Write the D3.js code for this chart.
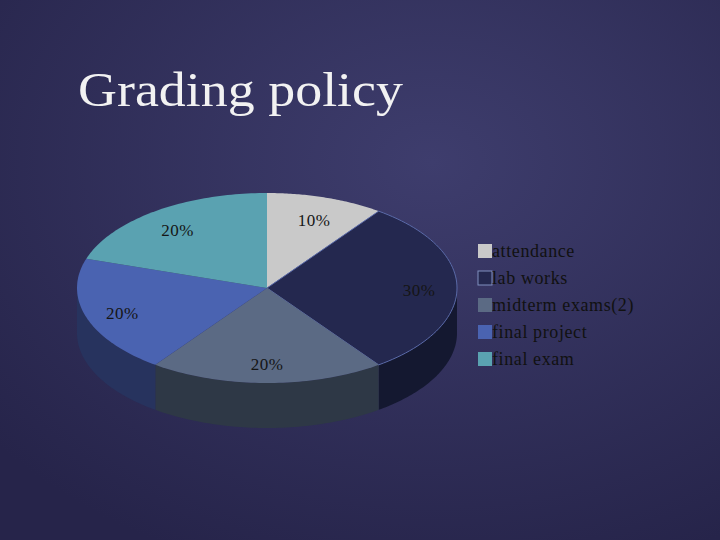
<!DOCTYPE html>
<html><head><meta charset="utf-8">
<script src="https://cdn.jsdelivr.net/npm/d3@7"></script>
<style>body{margin:0}svg{display:block}</style></head>
<body><svg id="c" width="720" height="540"></svg>
<script>
const categories = ["attendance","lab works","midterm exams(2)","final project","final exam"];
const values = [10,30,20,20,20];
const labels = ["10%","30%","20%","20%","20%"];
const topColors = ["#c9c9c9","#24284f","#5b6a84","#4a63b1","#5aa2b1"];
const sideColors = ["#8a8a8a","#141830","#2e3846","#27335e","#3a6a74"];

const svg = d3.select("#c");
const defs = svg.append("defs");
const g = defs.append("radialGradient").attr("id","bg").attr("cx","60%").attr("cy","30%").attr("r","80%");
g.append("stop").attr("offset","0%").attr("stop-color","#3e3d6d");
g.append("stop").attr("offset","100%").attr("stop-color","#26244a");
svg.append("rect").attr("width",720).attr("height",540).attr("fill","url(#bg)");

svg.append("text").attr("x",78).attr("y",106).attr("fill","#f2f2f2")
  .attr("font-family","Liberation Serif, DejaVu Serif, serif").attr("font-size",48)
  .attr("textLength",325).attr("lengthAdjust","spacingAndGlyphs")
  .text("Grading policy");

const cx=267, cy=288, rx=190, ry=95, depth=45;
const pie = d3.pie().sort(null).startAngle(0).endAngle(2*Math.PI);
const arcs = pie(values);
const sx = d3.scaleLinear().domain([-1,1]).range([cx-rx,cx+rx]);
const sy = d3.scaleLinear().domain([-1,1]).range([cy-ry,cy+ry]);
const pt = (a,dy=0)=>[sx(Math.sin(a)), sy(-Math.cos(a))+dy];
function edge(a1,a2,dy){const n=60,p=[];for(let i=0;i<=n;i++){p.push(pt(a1+(a2-a1)*i/n,dy));}return p;}
const line = d3.line();

arcs.forEach((d,i)=>{
  const a1=Math.max(d.startAngle,Math.PI/2), a2=Math.min(d.endAngle,3*Math.PI/2);
  if(a2<=a1) return;
  const pts = edge(a1,a2,0).concat(edge(a2,a1,depth));
  svg.append("path").attr("d",line(pts)+"Z").attr("fill",sideColors[i]);
});
arcs.forEach((d,i)=>{
  const pts=[[cx,cy]].concat(edge(d.startAngle,d.endAngle,0));
  svg.append("path").attr("d",line(pts)+"Z").attr("fill",topColors[i])
    .attr("stroke",i===1?"#5a6aa8":"none").attr("stroke-width",1);
});
arcs.forEach((d,i)=>{
  const a=(d.startAngle+d.endAngle)/2;
  svg.append("text").attr("x",sx(0.8*Math.sin(a))).attr("y",sy(-0.78*Math.cos(a))+8)
    .attr("text-anchor","middle").attr("fill","#151515")
    .attr("font-family","Liberation Serif, DejaVu Serif, serif").attr("font-size",17)
    .attr("letter-spacing",0.5)
    .text(labels[i]);
});
const ly = d3.scaleBand().domain(categories).range([238,373]);
categories.forEach((c,i)=>{
  const y=ly(c);
  svg.append("rect").attr("x",478).attr("y",y+6).attr("width",14).attr("height",14)
    .attr("fill",topColors[i]).attr("stroke",i===1?"#8090c0":"none");
  svg.append("text").attr("x",492).attr("y",y+19).attr("fill","#111")
    .attr("font-family","Liberation Serif, DejaVu Serif, serif").attr("font-size",18)
    .attr("letter-spacing",0.6).text(c);
});
</script></body></html>
